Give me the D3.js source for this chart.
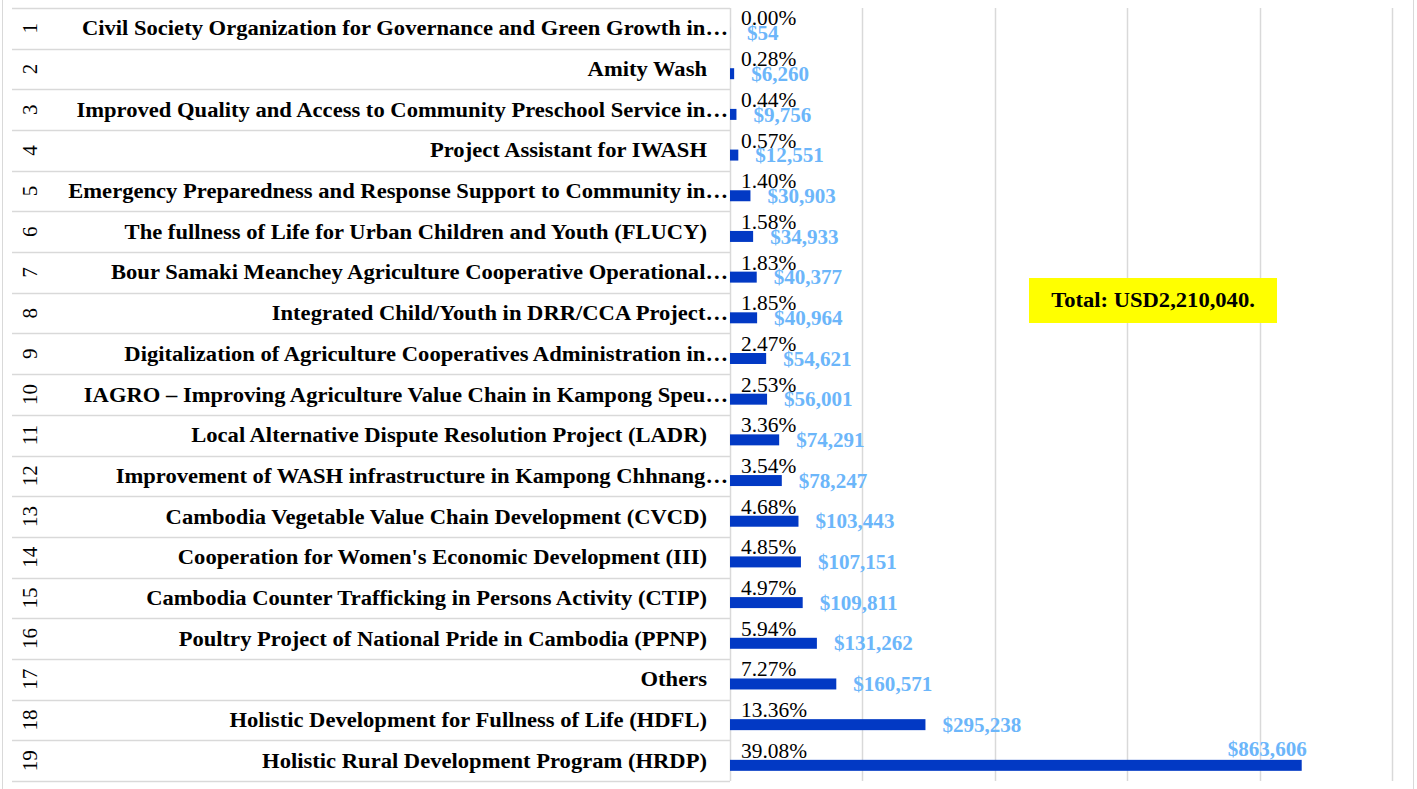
<html>
<head>
    <style>
        body {
            margin: 0;
            background: white;
        }
        svg {
            display: block;
        }
    </style>
    <script src="https://cdn.jsdelivr.net/npm/d3@7"></script>
</head>
<body>
<svg id="chart"></svg>
<script>
    // project names (as shown, long ones cut off by the chart)
    let projects = [
        "Civil Society Organization for Governance and Green Growth in…",
        "Amity Wash",
        "Improved Quality and Access to Community Preschool Service in…",
        "Project Assistant for IWASH",
        "Emergency Preparedness and Response Support to Community in…",
        "The fullness of Life for Urban Children and Youth (FLUCY)",
        "Bour Samaki Meanchey Agriculture Cooperative Operational…",
        "Integrated Child/Youth in DRR/CCA Project…",
        "Digitalization of Agriculture Cooperatives Administration in…",
        "IAGRO – Improving Agriculture Value Chain in Kampong Speu…",
        "Local Alternative Dispute Resolution Project (LADR)",
        "Improvement of WASH infrastructure in Kampong Chhnang…",
        "Cambodia Vegetable Value Chain Development (CVCD)",
        "Cooperation for Women's Economic Development (III)",
        "Cambodia Counter Trafficking in Persons Activity (CTIP)",
        "Poultry Project of National Pride in Cambodia (PPNP)",
        "Others",
        "Holistic Development for Fullness of Life (HDFL)",
        "Holistic Rural Development Program (HRDP)"
    ]
    let rowNumbers = d3.range(1, 20)
    let amounts = [54, 6260, 9756, 12551, 30903, 34933, 40377, 40964, 54621, 56001,
        74291, 78247, 103443, 107151, 109811, 131262, 160571, 295238, 863606]
    let percents = ["0.00%", "0.28%", "0.44%", "0.57%", "1.40%", "1.58%", "1.83%", "1.85%", "2.47%", "2.53%",
        "3.36%", "3.54%", "4.68%", "4.85%", "4.97%", "5.94%", "7.27%", "13.36%", "39.08%"]
    let gridTicks = [0, 200000, 400000, 600000, 800000, 1000000]
    let totalText = "Total: USD2,210,040."

    let width = 1417
    let height = 789
    let font = "'Liberation Serif', 'DejaVu Serif', serif"
    let gridColor = "#d9d9d9"

    let svg = d3.select("#chart").attr("width", width).attr("height", height)

    // the picture uses a wide serif; stretch our serif sideways to the same width
    function widthOf(sample, weight, size) {
        let t = svg.append("text").attr("font-family", font).attr("font-weight", weight)
            .attr("font-size", size).text(sample)
        let w = t.node().getComputedTextLength()
        t.remove()
        return w
    }
    let nameStretch = 445 / widthOf("Holistic Rural Development Program (HRDP)", "bold", 20)
    let pctStretch = 66 / widthOf("39.08%", "normal", 21)
    let amtStretch = 79 / widthOf("$160,571", "bold", 21)

    let x = d3.scaleLinear().domain([0, 1000000]).range([730, 1392])
    let y = d3.scaleBand().domain(rowNumbers).range([8, 781]).padding(0)
    let bw = y.bandwidth()

    // outer frame sides
    svg.append("line").attr("x1", 2.5).attr("x2", 2.5).attr("y1", 0).attr("y2", height)
        .attr("stroke", gridColor)
    svg.append("line").attr("x1", 1413.5).attr("x2", 1413.5).attr("y1", 0).attr("y2", height)
        .attr("stroke", gridColor)

    // vertical gridlines
    svg.selectAll(".grid").data(gridTicks)
        .enter().append("line")
        .attr("class", "grid")
        .attr("x1", d => Math.round(x(d)) + 0.5)
        .attr("x2", d => Math.round(x(d)) + 0.5)
        .attr("y1", y.range()[0])
        .attr("y2", y.range()[1])
        .attr("stroke", gridColor)
        .attr("stroke-width", 1.5)

    // row separators in the category table
    let seps = rowNumbers.map(d => y(d)).concat([y.range()[1]])
    svg.selectAll(".sep").data(seps)
        .enter().append("line")
        .attr("class", "sep")
        .attr("x1", 12)
        .attr("x2", x(0))
        .attr("y1", d => Math.round(d) + 0.5)
        .attr("y2", d => Math.round(d) + 0.5)
        .attr("stroke", gridColor)
        .attr("stroke-width", 1.5)

    // bars
    svg.selectAll(".bar").data(amounts)
        .enter().append("rect")
        .attr("class", "bar")
        .attr("x", x(0))
        .attr("y", (d, i) => y(rowNumbers[i]) + bw * 0.48)
        .attr("width", d => x(d) - x(0))
        .attr("height", bw * 0.27)
        .attr("fill", "#0239c4")

    // row numbers, rotated
    svg.selectAll(".num").data(rowNumbers)
        .enter().append("text")
        .attr("class", "num")
        .attr("transform", d => `translate(37, ${y(d) + bw / 2}) rotate(-90)`)
        .attr("text-anchor", "middle")
        .attr("font-family", font)
        .attr("font-size", 21)
        .attr("fill", "#000")
        .text(d => d)

    // project names
    svg.selectAll(".name").data(projects)
        .enter().append("text")
        .attr("class", "name")
        .attr("transform", (d, i) =>
            `translate(${d.endsWith("…") ? 728 : 707}, ${y(rowNumbers[i]) + bw / 2 + 7}) scale(${nameStretch}, 1)`)
        .attr("text-anchor", "end")
        .attr("font-family", font)
        .attr("font-weight", "bold")
        .attr("font-size", 20)
        .attr("fill", "#000")
        .text(d => d)

    // percent labels
    svg.selectAll(".pct").data(percents)
        .enter().append("text")
        .attr("class", "pct")
        .attr("transform", (d, i) =>
            `translate(${x(0) + 11}, ${y(rowNumbers[i]) + bw * 0.43}) scale(${pctStretch}, 1)`)
        .attr("font-family", font)
        .attr("font-size", 21)
        .attr("fill", "#000")
        .text(d => d)

    // amount labels
    let fmt = d3.format("$,")
    svg.selectAll(".amt").data(amounts)
        .enter().append("text")
        .attr("class", "amt")
        .attr("font-family", font)
        .attr("font-weight", "bold")
        .attr("font-size", 21)
        .attr("fill", "#6cb6fa")
        .text(d => fmt(d))
        .each(function (d, i) {
            let t = d3.select(this)
            let w = this.getComputedTextLength() * amtStretch
            let top = y(rowNumbers[i])
            if (x(d) + 17 + w > x.range()[1]) {
                // no room on the right: sit above the bar end
                t.attr("text-anchor", "end")
                    .attr("transform", `translate(${x(d) + 5}, ${top + bw * 0.39}) scale(${amtStretch}, 1)`)
            } else {
                t.attr("transform", `translate(${x(d) + 17}, ${top + bw * 0.79}) scale(${amtStretch}, 1)`)
            }
        })

    // total box
    let box = svg.append("g").attr("transform", "translate(1029, 278)")
    box.append("rect").attr("width", 248).attr("height", 45).attr("fill", "#ffff00")
    box.append("text")
        .attr("transform", `translate(124, 29) scale(${nameStretch}, 1)`)
        .attr("text-anchor", "middle")
        .attr("font-family", font)
        .attr("font-weight", "bold")
        .attr("font-size", 20)
        .attr("fill", "#000")
        .text(totalText)
</script>
</body>
</html>
